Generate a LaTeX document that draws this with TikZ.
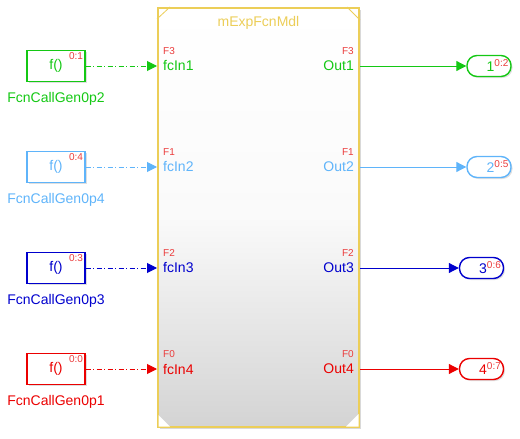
\documentclass[tikz,border=0pt]{standalone}
\usepackage{fontspec}
\setmainfont{Liberation Sans}
\usetikzlibrary{arrows.meta,positioning,shadows}
\definecolor{fgreen}{RGB}{20,200,20}
\definecolor{fcyan}{RGB}{95,180,250}
\definecolor{fblue}{RGB}{0,0,205}
\definecolor{fred}{RGB}{235,0,0}
\definecolor{tred}{RGB}{235,60,60}
\definecolor{mdlyel}{RGB}{236,206,88}

\begin{document}
\begin{tikzpicture}[x=1pt,y=-1pt,
  gen/.style={draw=#1,text=#1,line width=1.4pt,fill=white,minimum width=58pt,minimum height=31pt,
    font=\fontsize{14}{16}\selectfont,
    drop shadow={shadow xshift=1.5pt,shadow yshift=-1.5pt,opacity=.25}},
  glab/.style={inner sep=0pt,font=\fontsize{14}{16}\selectfont},
  tmark/.style={text=tred,inner sep=2.5pt,font=\fontsize{10}{12}\selectfont},
  mdl/.style={draw=mdlyel,line width=2pt,minimum width=201pt,minimum height=419pt,
    top color=white,bottom color=black!17,middle color=black!2,
    drop shadow={shadow xshift=2pt,shadow yshift=-2pt,opacity=.3}},
  port/.style={inner xsep=6pt,inner ysep=0pt,font=\fontsize{14}{16}\selectfont},
  fnum/.style={text=tred,inner xsep=6pt,inner ysep=0pt,font=\fontsize{10}{12}\selectfont},
  pill/.style={draw=#1,text=#1,line width=1.4pt,fill=white,rounded corners=10pt,minimum width=44pt,
    minimum height=21pt,inner sep=0pt,font=\fontsize{14}{16}\selectfont,
    drop shadow={shadow xshift=1.5pt,shadow yshift=-1.5pt,opacity=.25}},
  fcarr/.style={-{Triangle[length=10pt,width=10pt]},line width=1pt,
    dash pattern=on 5pt off 2.5pt on 1pt off 2.5pt},
  arr/.style={-{Triangle[length=10pt,width=10pt]},line width=1pt}
]
  \useasboundingbox (0,0) rectangle (520,439);

  % model block
  \node[mdl] (mdl) at (258.5,217.5) {};
  \node[glab,text=mdlyel,below=9pt of mdl.north] (ttl) {mExpFcnMdl};
  \draw[mdlyel,line width=.8pt] ([yshift=-12pt]mdl.north west) -- ([xshift=13pt]mdl.north west);
  \draw[mdlyel,line width=.8pt] ([xshift=-13pt]mdl.north east) -- ([yshift=-13pt]mdl.north east);
  \fill[white] ([xshift=1.5pt,yshift=1.5pt]mdl.south west) -- ([xshift=1.5pt,yshift=13pt]mdl.south west)
    -- ([xshift=13pt,yshift=1.5pt]mdl.south west) -- cycle;
  \fill[white] ([xshift=-1.5pt,yshift=1.5pt]mdl.south east) -- ([xshift=-1.5pt,yshift=14pt]mdl.south east)
    -- ([xshift=-14pt,yshift=1.5pt]mdl.south east) -- cycle;

  % green
  \node[gen=fgreen] (g2) at (56,66) {f()};
  \node[tmark,anchor=north east] (t2) at (g2.north east) {0:1};
  \node[glab,fgreen,below=10pt of g2] (l2) {FcnCallGen0p2};
  \node[port,fgreen,anchor=west] (in1) at (mdl.west |- g2) {fcIn1};
  \node[fnum,above right=6pt and 0pt of in1.north west] (fi1) {F3};
  \node[port,fgreen,anchor=east] (out1) at (mdl.east |- g2) {Out1};
  \node[fnum,above left=6pt and 0pt of out1.north east] (fo1) {F3};
  \node[pill=fgreen] (y1) at (489,66) {\hspace*{17pt}1\raisebox{5pt}{\fontsize{10}{12}\selectfont\textcolor{tred}{0:2}}};
  \draw[fcarr,fgreen] (g2.east) -- (in1.west);
  \draw[arr,fgreen] (out1.east) -- (y1.west);

  % light blue
  \node[gen=fcyan] (g4) at (56,167) {f()};
  \node[tmark,anchor=north east] (t4) at (g4.north east) {0:4};
  \node[glab,fcyan,below=10pt of g4] (l4) {FcnCallGen0p4};
  \node[port,fcyan,anchor=west] (in2) at (mdl.west |- g4) {fcIn2};
  \node[fnum,above right=6pt and 0pt of in2.north west] (fi2) {F1};
  \node[port,fcyan,anchor=east] (out2) at (mdl.east |- g4) {Out2};
  \node[fnum,above left=6pt and 0pt of out2.north east] (fo2) {F1};
  \node[pill=fcyan] (y2) at (489,167) {\hspace*{17pt}2\raisebox{5pt}{\fontsize{10}{12}\selectfont\textcolor{tred}{0:5}}};
  \draw[fcarr,fcyan] (g4.east) -- (in2.west);
  \draw[arr,fcyan] (out2.east) -- (y2.west);

  % blue
  \node[gen=fblue] (g3) at (56,268) {f()};
  \node[tmark,anchor=north east] (t3) at (g3.north east) {0:3};
  \node[glab,fblue,below=10pt of g3] (l3) {FcnCallGen0p3};
  \node[port,fblue,anchor=west] (in3) at (mdl.west |- g3) {fcIn3};
  \node[fnum,above right=6pt and 0pt of in3.north west] (fi3) {F2};
  \node[port,fblue,anchor=east] (out3) at (mdl.east |- g3) {Out3};
  \node[fnum,above left=6pt and 0pt of out3.north east] (fo3) {F2};
  \node[pill=fblue] (y3) at (481.5,268) {\hspace*{17pt}3\raisebox{5pt}{\fontsize{10}{12}\selectfont\textcolor{tred}{0:6}}};
  \draw[fcarr,fblue] (g3.east) -- (in3.west);
  \draw[arr,fblue] (out3.east) -- (y3.west);

  % red
  \node[gen=fred] (g1) at (56,369) {f()};
  \node[tmark,anchor=north east] (t1) at (g1.north east) {0:0};
  \node[glab,fred,below=10pt of g1] (l1) {FcnCallGen0p1};
  \node[port,fred,anchor=west] (in4) at (mdl.west |- g1) {fcIn4};
  \node[fnum,above right=6pt and 0pt of in4.north west] (fi4) {F0};
  \node[port,fred,anchor=east] (out4) at (mdl.east |- g1) {Out4};
  \node[fnum,above left=6pt and 0pt of out4.north east] (fo4) {F0};
  \node[pill=fred] (y4) at (481.5,369) {\hspace*{17pt}4\raisebox{5pt}{\fontsize{10}{12}\selectfont\textcolor{tred}{0:7}}};
  \draw[fcarr,fred] (g1.east) -- (in4.west);
  \draw[arr,fred] (out4.east) -- (y4.west);
\end{tikzpicture}
\end{document}
